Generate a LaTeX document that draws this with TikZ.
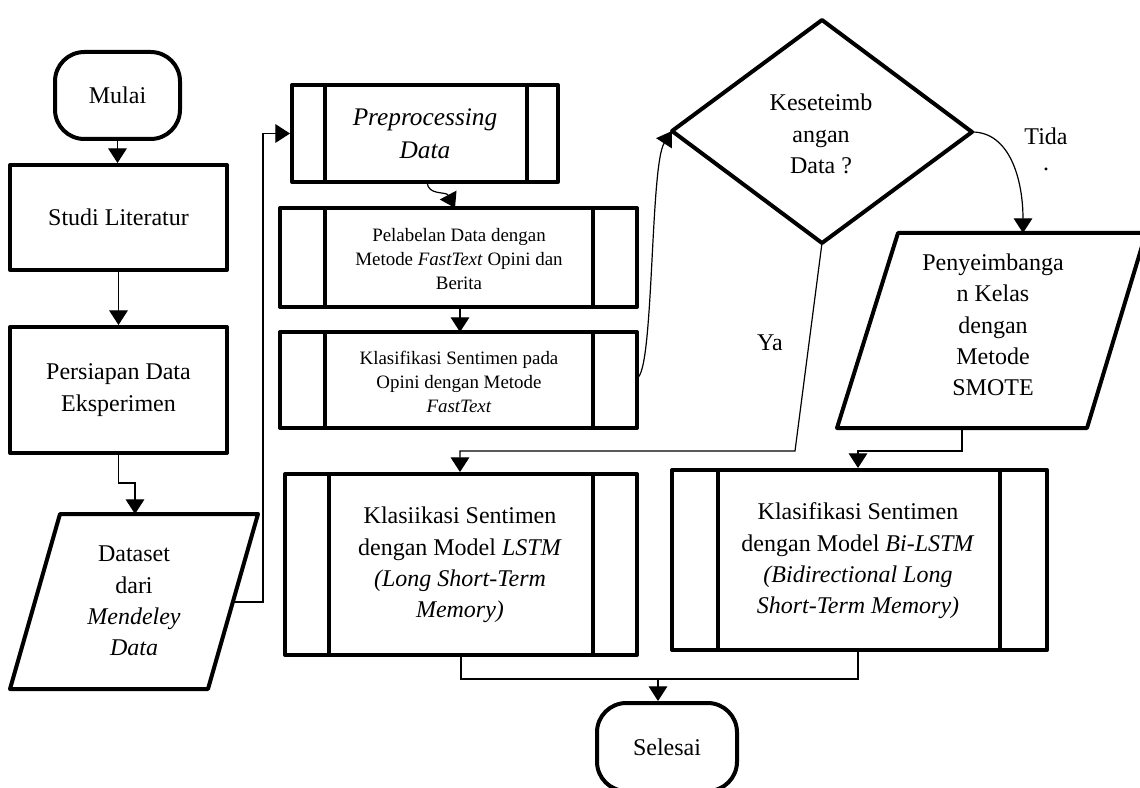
\documentclass[tikz,border=0pt]{standalone}
\usepackage{fontspec}
\setmainfont{Liberation Serif}
\usetikzlibrary{arrows.meta}
\begin{document}
\begin{tikzpicture}[x=0.75pt,y=-0.75pt,
  box/.style={draw, line width=3pt, line join=round, inner sep=0pt, align=center},
  big/.style={font=\fontsize{18}{23.5}\selectfont},
  small/.style={font=\fontsize{14.2}{18}\selectfont},
  term/.style={box, big, rounded corners=22pt},
  conn/.style={line width=0.9pt},
  arr/.style={conn, -{Triangle[width=14pt,length=11pt]}},
  thk/.style={line width=3pt, line join=round},
  lbl/.style={big, align=center, inner sep=0pt},
]
\useasboundingbox (0,0) rectangle (1140,788);

% left column
\node[term, minimum width=93.75pt, minimum height=65.25pt] (mulai) at (117.5,95.5) {Mulai};
\node[box, big, minimum width=162.75pt, minimum height=78.75pt] (studi) at (118.5,217.5) {Studi Literatur};
\node[box, big, minimum width=162.75pt, minimum height=94.5pt] (persiapan) at (118.5,390) {Persiapan Data\\Eksperimen};
\draw[thk] (60,514) -- (258,514) -- (208,689) -- (10,689) -- cycle;
\node[lbl] (dataset) at (134,601) {Dataset\\dari\\\textit{Mendeley}\\\textit{Data}};
\coordinate (dstop) at (135,514);
\coordinate (dsmid) at (135,483);
\coordinate (dsout) at (233,602);
\coordinate (upline) at (263,602);

% middle column
\node[box, minimum width=199.5pt, minimum height=72.75pt, font=\fontsize{19}{25}\selectfont] (pre) at (425,133.5) {\textit{Preprocessing}\\\textit{Data}};
\draw[thk] (325,85) -- (325,182) (527,85) -- (527,182);
\node[box, small, minimum width=267.75pt, minimum height=74.25pt] (pel) at (458.5,257.5) {};
\node[small, align=center, inner sep=0pt] (peltext) at (459,259) {Pelabelan Data dengan\\Metode \textit{FastText} Opini dan\\Berita};
\draw[thk] (325,208) -- (325,307) (593,208) -- (593,307);
\node[box, small, minimum width=267.75pt, minimum height=72pt] (kls) at (458.5,380) {};
\node[small, align=center, inner sep=0pt] (klstext) at (459,382) {Klasifikasi Sentimen pada\\Opini dengan Metode\\\textit{FastText}};
\draw[thk] (325,332) -- (325,428) (593,332) -- (593,428);

% decision
\draw[thk] (672,131) -- (822,20) -- (972,132) -- (822,243) -- cycle;
\coordinate (dl) at (672,131);
\coordinate (dr) at (972,132);
\coordinate (db) at (822,243);
\node[lbl] (dia) at (821,134) {Keseteimb\\angan\\Data ?};

% balancing
\draw[thk] (898,233) -- (1146,233) -- (1087,428) -- (837,428) -- cycle;
\node[lbl] (peny) at (993,325) {Penyeimbanga\\n Kelas\\dengan\\Metode\\SMOTE};
\coordinate (pytop) at (1023,233);
\coordinate (pybot) at (962,428);

% models
\node[box, big, minimum width=264pt, minimum height=135.75pt] (lstm) at (461,564.5) {};
\node[lbl] (lstmtext) at (460,565) {Klasiikasi Sentimen\\dengan Model \textit{LSTM}\\\textit{(Long Short-Term}\\\textit{Memory)}};
\draw[thk] (329,474) -- (329,655) (593,474) -- (593,655);
\node[box, big, minimum width=281.25pt, minimum height=135pt] (bilstm) at (859.5,560) {};
\node[lbl] (bilstmtext) at (858,561) {Klasifikasi Sentimen\\dengan Model \textit{Bi-LSTM}\\\textit{(Bidirectional Long}\\\textit{Short-Term Memory)}};
\draw[thk] (718,470) -- (718,650) (1000,470) -- (1000,650);

\node[term, minimum width=105pt, minimum height=66pt] (selesai) at (667,747) {Selesai};

% labels
\node[lbl] (ya) at (770,343) {Ya};
\node[big, align=center, inner sep=0pt, anchor=north] (tida) at (1046,128) {Tida\\[-4pt].};

% connectors
\draw[arr] (mulai.south) -- (mulai.south |- studi.north);
\draw[arr] (studi.south) -- (studi.south |- persiapan.north);
\draw[arr] (persiapan.south) |- (dsmid) -- (dstop);
\draw[arr] (dsout) -- (upline) |- (pre.west);
\draw[arr] (427,182) .. controls (428,196) and (446,191) .. (455,208);
\draw[arr] (460,307) -- (460,332);
\draw[arr] (637,378) .. controls (654,372) and (650,165) .. (dl);
\draw[arr] (dr) .. controls (1010,132) and (1023,180) .. (pytop);
\coordinate (yaj) at (795,451);
\coordinate (lstmin) at (460,451);
\draw[arr] (db) -- (yaj) -- (lstmin) -- (lstmin |- lstm.north);
\coordinate (bij) at (858,451);
\draw[arr] (pybot) |- (bij) -- (bij |- bilstm.north);
\coordinate (endj) at (658,679);
\draw[conn] (lstm.south) |- (endj) -| (858,650);
\draw[arr] (endj) -- (endj |- selesai.north);
\end{tikzpicture}
\end{document}
